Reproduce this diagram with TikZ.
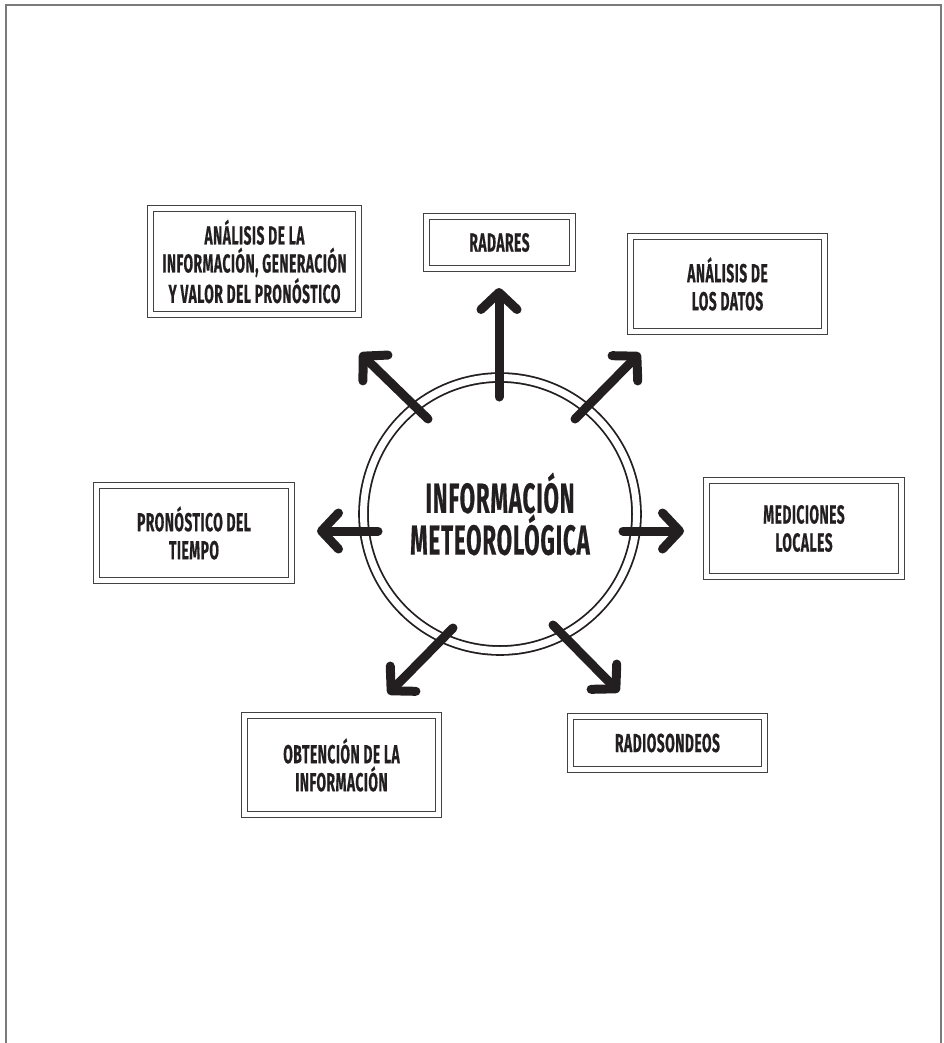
\documentclass[tikz,border=0pt]{standalone}
\usepackage{fontspec}
\usepackage{tikz}
\usetikzlibrary{arrows.meta}
\newfontfamily\dinfont{Fira Sans}[FakeStretch=0.53, LetterSpace=2, BoldFeatures={FakeBold=0.4}]
\definecolor{ink}{HTML}{231F20}
\definecolor{framegray}{HTML}{7A7A7A}

\begin{document}
\begin{tikzpicture}[x=1pt, y=-1pt,
box_style/.style={rectangle, draw=ink!85, double=white, double distance=5pt, line width=1.3pt, align=center, text=ink, inner sep=0pt, font=\dinfont\bfseries\fontsize{26}{28}\selectfont},
circle_style/.style={circle, draw=ink, double=white, double distance=7pt, line width=1.8pt, minimum size=273pt, align=center, text=ink, inner sep=0pt, font=\dinfont\bfseries\fontsize{42}{40}\selectfont},
arrow_style/.style={draw=ink, line width=9pt, line cap=round, -{Straight Barb[length=17pt, width=36pt, line cap=round, line join=round]}},
frame_style/.style={draw=framegray, line width=2.5pt}]
\useasboundingbox (0,0) rectangle (943,1043);
\draw[frame_style] (6,1043) -- (6,5) -- (941,5) -- (941,1043);

\node[circle_style] (info) at (500,514) {INFORMACIÓN\\METEOROLÓGICA};

\node[box_style, minimum width=208pt, minimum height=106pt] (analisis_info) at (254.5,261.5) {ANÁLISIS DE LA\\INFORMACIÓN, GENERACIÓN\\Y VALOR DEL PRONÓSTICO};
\node[box_style, minimum width=146pt, minimum height=52pt] (radares) at (499.5,242.5) {RADARES};
\node[box_style, minimum width=194pt, minimum height=95pt] (analisis_datos) at (727.5,284) {ANÁLISIS DE\\LOS DATOS};
\node[box_style, minimum width=195pt, minimum height=95pt] (pronostico) at (194,533) {PRONÓSTICO DEL\\TIEMPO};
\node[box_style, minimum width=195pt, minimum height=96pt] (mediciones) at (804,528.5) {MEDICIONES\\LOCALES};
\node[box_style, minimum width=194pt, minimum height=99pt] (obtencion) at (341.5,765) {OBTENCIÓN DE LA\\INFORMACIÓN};
\node[box_style, minimum width=194pt, minimum height=53pt] (radiosondeos) at (667.5,743) {RADIOSONDEOS};

\coordinate (radares_from) at (499,397);
\coordinate (radares_to) at (499,288);
\coordinate (analisis_info_from) at (428,419);
\coordinate (analisis_info_to) at (360,353);
\coordinate (analisis_datos_from) at (575,419);
\coordinate (analisis_datos_to) at (640,353);
\coordinate (pronostico_from) at (378,531);
\coordinate (pronostico_to) at (317,531);
\coordinate (mediciones_from) at (623,531);
\coordinate (mediciones_to) at (684,531);
\coordinate (obtencion_from) at (453,628);
\coordinate (obtencion_to) at (388,694);
\coordinate (radiosondeos_from) at (553,625);
\coordinate (radiosondeos_to) at (619,692);

\draw[arrow_style] (radares_from) -- (radares_to);
\draw[arrow_style] (analisis_info_from) -- (analisis_info_to);
\draw[arrow_style] (analisis_datos_from) -- (analisis_datos_to);
\draw[arrow_style] (pronostico_from) -- (pronostico_to);
\draw[arrow_style] (mediciones_from) -- (mediciones_to);
\draw[arrow_style] (obtencion_from) -- (obtencion_to);
\draw[arrow_style] (radiosondeos_from) -- (radiosondeos_to);
\end{tikzpicture}
\end{document}
